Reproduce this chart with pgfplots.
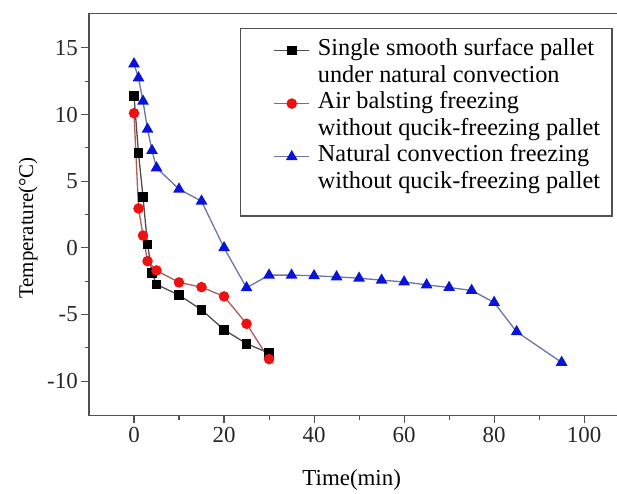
\documentclass[border=0pt]{standalone}
\usepackage{fontspec}
\setmainfont{Liberation Serif}
\usepackage{pgfplots}
\pgfplotsset{compat=1.18}
\definecolor{axgray}{HTML}{505050}
\definecolor{lnblack}{HTML}{4D4D4D}
\definecolor{lnred}{HTML}{B05A5A}
\definecolor{lnblue}{HTML}{6A74A8}
\definecolor{mkred}{HTML}{EE1111}
\definecolor{mkblue}{HTML}{0A14D8}
\begin{document}
\begin{tikzpicture}
\path[use as bounding box] (-89bp,-78.3bp) rectangle (528bp,415.7bp);
\begin{axis}[
  at={(0,0)}, anchor=south west,
  scale only axis, width=528bp, height=402.4bp,
  xmin=-10, xmax=107.3, ymin=-12.6, ymax=17.6,
  axis x line*=box, axis y line*=left,
  axis line style={axgray, line width=1.3bp},
  xtick pos=left, ytick pos=left,
  tick align=outside,
  major tick length=7.7bp, minor tick length=4.3bp,
  every tick/.style={axgray, line width=1.1bp},
  minor x tick num=1, minor y tick num=1,
  xtick={0,20,...,100}, ytick={-10,-5,...,15},
  xticklabel={\pgfmathprintnumber{\tick}},
  yticklabel={\pgfmathprintnumber{\tick}},
  ticklabel style={font=\fontsize{23}{27}\selectfont, text=black!85, /pgf/number format/assume math mode=true},
  xlabel={Time(min)},
  ylabel={Temperature(\textdegree C)},
  xlabel style={at={(axis description cs:0.4975,-0.16)}, anchor=center, font=\fontsize{23}{27}\selectfont},
  ylabel style={at={(axis description cs:-0.1155,0.4665)}, anchor=center, font=\fontsize{21}{25}\selectfont},
  legend cell align=left,
  legend image code/.code={%
    \path (-23bp,0bp) (41bp,0bp);
    \draw[mark repeat=2,mark phase=2] plot coordinates {(0bp,0bp) (17.5bp,0bp) (35bp,0bp)};},
  legend style={at={(axis description cs:0.286,0.9635)}, anchor=north west,
    draw=axgray, line width=1.2bp, inner xsep=10bp, inner ysep=8.5bp,
    row sep=0pt,
    font=\fontsize{24.4}{28}\selectfont,
    nodes={text height=16bp, text depth=5.6bp, inner ysep=2.5bp, inner xsep=2bp, line width=1.2bp}},
]
\addplot[lnblack, line width=1.3bp, mark=square*, mark size=4.2bp,
  mark options={fill=black, draw=black, solid}] coordinates {
  (0,11.4) (1,7.1) (2,3.8) (3,0.25) (4,-1.9) (5,-2.75) (10,-3.55)
  (15,-4.65) (20,-6.15) (25,-7.2) (30,-7.9)};
\addlegendentry{Single smooth surface pallet}
\addlegendimage{empty legend}
\addlegendentry{under natural convection}
\addplot[lnred, line width=1.3bp, mark=*, mark size=4.6bp,
  mark options={fill=mkred, draw=mkred, solid}] coordinates {
  (0,10.1) (1,2.95) (2,0.92) (3,-1.0) (5,-1.7) (10,-2.6)
  (15,-2.95) (20,-3.65) (25,-5.7) (30,-8.35)};
\addlegendentry{Air balsting freezing}
\addlegendimage{empty legend}
\addlegendentry{without qucik-freezing pallet}
\addplot[lnblue, line width=1.3bp, mark=triangle*, mark size=5.5bp,
  mark options={fill=mkblue, draw=mkblue, solid}] coordinates {
  (0,13.8) (1,12.75) (2,11.0) (3,8.9) (4,7.3) (5,6.0) (10,4.4)
  (15,3.5) (20,0.0) (25,-3.0) (30,-2.05) (35,-2.05) (40,-2.1)
  (45,-2.18) (50,-2.28) (55,-2.43) (60,-2.56) (65,-2.78) (70,-2.98)
  (75,-3.2) (80,-4.1) (85,-6.3) (95,-8.6)};
\addlegendentry{Natural convection freezing}
\addlegendimage{empty legend}
\addlegendentry[text depth=16.5bp]{without qucik-freezing pallet}
\end{axis}
\end{tikzpicture}
\end{document}
